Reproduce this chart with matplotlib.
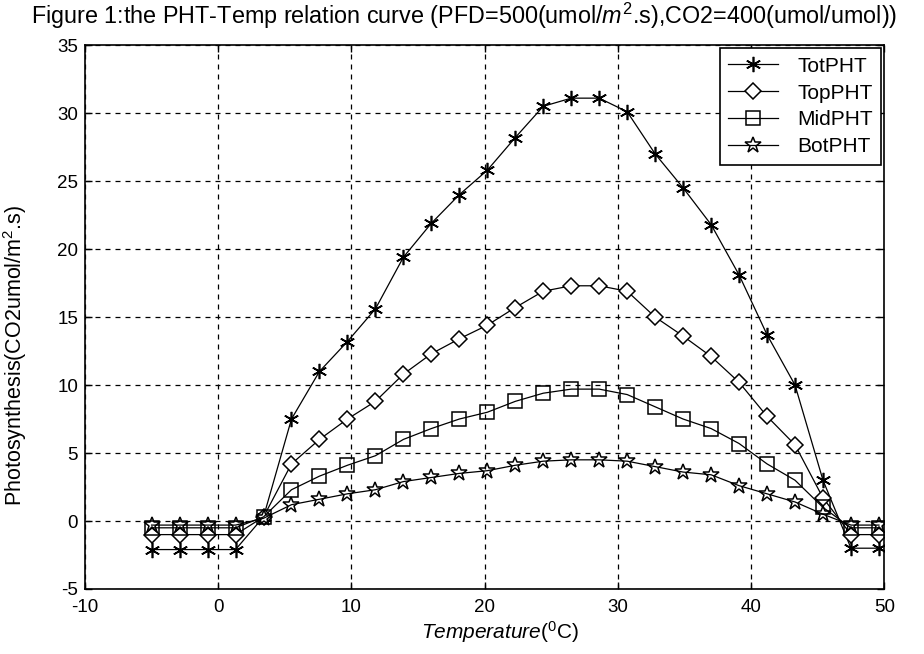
import matplotlib
matplotlib.use("Agg")
import matplotlib.pyplot as plt

plt.rcParams['font.family'] = ['Liberation Sans', 'DejaVu Sans']
plt.rcParams['mathtext.fontset'] = 'custom'
plt.rcParams['mathtext.rm'] = 'Liberation Sans'
plt.rcParams['mathtext.it'] = 'Liberation Sans:italic'
plt.rcParams['axes.unicode_minus'] = False

temperature = [-5.0, -2.9, -0.8, 1.3, 3.4, 5.5, 7.6, 9.7, 11.8, 13.9, 16.0, 18.1, 20.2,
               22.3, 24.4, 26.5, 28.6, 30.7, 32.8, 34.9, 37.0, 39.1, 41.2, 43.3, 45.4, 47.5, 49.6]

tot_pht = [-2.1, -2.1, -2.1, -2.1, 0.3, 7.5, 11.0, 13.2, 15.6, 19.4, 21.9, 24.0, 25.8,
           28.2, 30.5, 31.1, 31.1, 30.1, 27.0, 24.5, 21.8, 18.1, 13.7, 10.0, 3.0, -2.0, -2.0]
top_pht = [-1.0, -1.0, -1.0, -1.0, 0.3, 4.2, 6.0, 7.5, 8.8, 10.8, 12.3, 13.4, 14.4,
           15.7, 16.9, 17.3, 17.3, 16.9, 15.0, 13.6, 12.1, 10.2, 7.7, 5.6, 1.7, -1.0, -1.0]
mid_pht = [-0.5, -0.5, -0.5, -0.5, 0.3, 2.3, 3.3, 4.1, 4.8, 6.0, 6.8, 7.5, 8.0,
           8.8, 9.4, 9.7, 9.7, 9.3, 8.4, 7.5, 6.8, 5.7, 4.2, 3.0, 1.0, -0.5, -0.5]
bot_pht = [-0.3, -0.3, -0.3, -0.3, 0.2, 1.2, 1.6, 2.0, 2.3, 2.9, 3.2, 3.5, 3.7,
           4.1, 4.4, 4.5, 4.5, 4.4, 4.0, 3.6, 3.4, 2.6, 2.0, 1.4, 0.5, -0.3, -0.3]

series_names = ['TotPHT', 'TopPHT', 'MidPHT', 'BotPHT']

xticks = [-10, 0, 10, 20, 30, 40, 50]
yticks = [-5, 0, 5, 10, 15, 20, 25, 30, 35]

fig = plt.figure(figsize=(9.24, 6.54), dpi=100)
ax = fig.add_axes([0.092, 0.0994, 0.865, 0.8316])

asterisk = (6, 2, 0)
ax.plot(temperature, tot_pht, color='black', lw=0.9, marker=asterisk, ms=11, mew=1.2,
        label=series_names[0])
ax.plot(temperature, top_pht, color='black', lw=0.9, marker='D', ms=8, mfc='white',
        mec='black', mew=1.1, label=series_names[1])
ax.plot(temperature, mid_pht, color='black', lw=0.9, marker='s', ms=10, mfc='none',
        mec='black', mew=1.1, label=series_names[2])
ax.plot(temperature, bot_pht, color='black', lw=0.9, marker='*', ms=12, mfc='none',
        mec='black', mew=1.1, label=series_names[3])

ax.set_xlim(-10, 50)
ax.set_ylim(-5, 35)
ax.set_xticks(xticks)
ax.set_yticks(yticks)
ax.tick_params(direction='in', length=5, labelsize=13.5, width=1, top=True, right=True)
ax.tick_params(axis='x', pad=7)
ax.tick_params(axis='y', pad=5)
ax.grid(True, color='black', linestyle=(0, (4, 4)), linewidth=0.9)
for s in ax.spines.values():
    s.set_linewidth(1.2)

fig.text(464 / 924, 1 - 16 / 654,
         'Figure 1:the PHT-Temp relation curve (PFD=500(umol/$m^2$.s),CO2=400(umol/umol))',
         fontsize=16.8, ha='center', va='center')
ax.set_xlabel(r'$\it{Temperature}$($^0$C)', fontsize=15, labelpad=1)
ax.xaxis.set_label_coords(0.519, -0.055)
ax.set_ylabel('Photosynthesis(CO2umol/m$^2$.s)', fontsize=15.5, labelpad=4)
ax.yaxis.set_label_coords(-0.07, 0.43)

leg = ax.legend(loc='upper right', fontsize=15, frameon=True, fancybox=False,
                edgecolor='black', framealpha=1, borderaxespad=0.15,
                handlelength=2.4, labelspacing=0.38, borderpad=0.4, handletextpad=0.9)
leg.get_frame().set_linewidth(1.2)

fig.savefig('out.png', dpi=100)
